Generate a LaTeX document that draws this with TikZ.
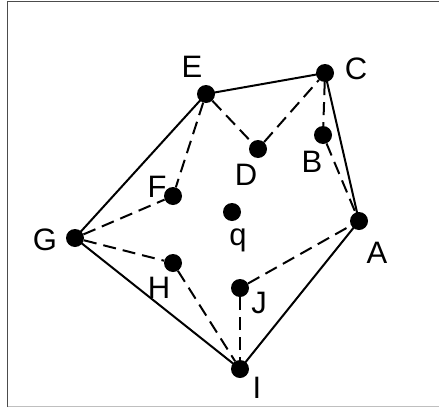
\documentclass[tikz,border=0pt]{standalone}
\usepackage{fontspec}
\setmainfont{Liberation Sans}
\begin{document}
\begin{tikzpicture}[x=1pt,y=-1pt,
  pt/.style={circle,fill=black,inner sep=0pt,minimum size=18pt},
  lab/.style={anchor=base,inner sep=0pt,font=\fontsize{31}{36}\selectfont},
  hull/.style={line width=2pt},
  inner/.style={line width=2pt,dash pattern=on 13pt off 7pt}]
\useasboundingbox (0,0) rectangle (439,407);
\draw[line width=1.5pt,black!70] (7.5,407) -- (7.5,1.5) -- (439,1.5);
\draw[line width=1pt,black!25] (7.5,406.5) -- (439,406.5);
% points
\node[pt] (E) at (206,94) {};
\node[pt] (C) at (325,73) {};
\node[pt] (D) at (258,149) {};
\node[pt] (B) at (323,135) {};
\node[pt] (F) at (173,196) {};
\node[pt] (q) at (232,212) {};
\node[pt] (A) at (359,221) {};
\node[pt] (G) at (75,238) {};
\node[pt] (H) at (173,263) {};
\node[pt] (J) at (240,288) {};
\node[pt] (I) at (240,369) {};
% labels
\node[lab] (lE) at (192,77) {E};
\node[lab] (lC) at (356,79) {C};
\node[lab] (lD) at (246,185) {D};
\node[lab] (lB) at (312,172) {B};
\node[lab] (lF) at (157,197) {F};
\node[lab] (lq) at (238,245) {q};
\node[lab] (lA) at (377,263) {A};
\node[lab] (lG) at (45,250) {G};
\node[lab] (lH) at (159,298) {H};
\node[lab] (lJ) at (259,313) {J};
\node[lab] (lI) at (257,398) {I};
% hull
\draw[hull] (E.center) -- (C.center) -- (A.center) -- (I.center) -- (G.center) -- (E.center);
% inner dashed
\draw[inner] (E) -- (F);
\draw[inner] (E) -- (D);
\draw[inner] (D) -- (C);
\draw[inner] (C) -- (B);
\draw[inner] (B) -- (A);
\draw[inner] (G) -- (F);
\draw[inner] (G) -- (H);
\draw[inner] (H) -- (I);
\draw[inner] (J) -- (I);
\draw[inner] (J) -- (A);
\end{tikzpicture}
\end{document}
